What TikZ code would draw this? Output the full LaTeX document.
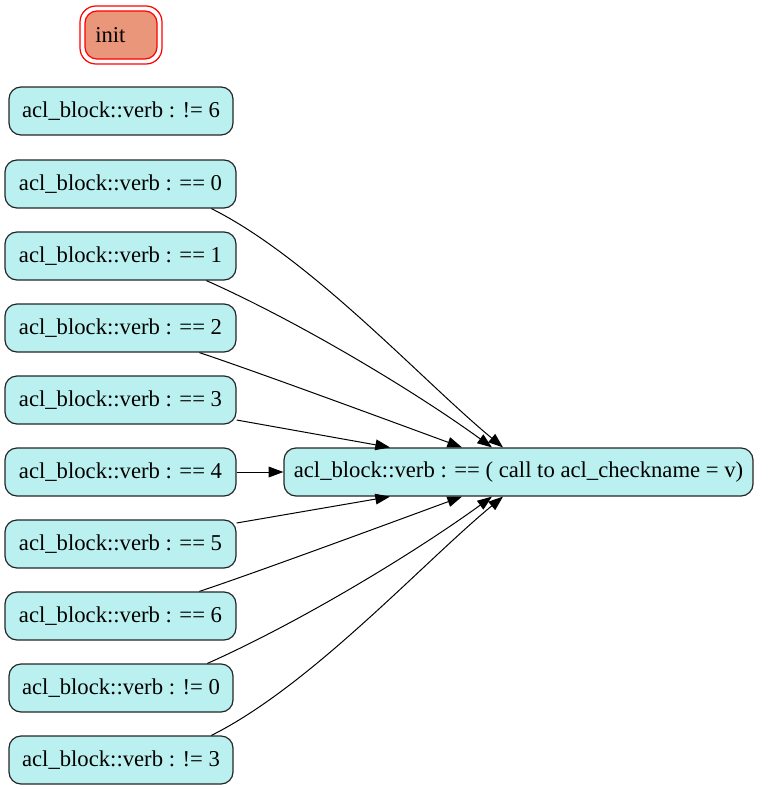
\documentclass[tikz,border=0pt]{standalone}
\usepackage{fontspec}
\setmainfont{Liberation Serif}
\usetikzlibrary{arrows.meta,calc}
\definecolor{boxfill}{RGB}{186,240,240}
\definecolor{initfill}{RGB}{233,150,122}
\tikzset{
  box/.style={draw=black!85, line width=0.9pt, fill=boxfill, rounded corners=9pt,
    minimum height=36pt, inner sep=0pt, font=\fontsize{17}{20}\selectfont},
  widebox/.style={box, minimum width=173.25pt},
  narrowbox/.style={box, minimum width=168pt},
  edge/.style={draw=black, line width=0.75pt, -{Triangle[length=11pt,width=8pt]}},
}
\begin{document}
\begin{tikzpicture}[x=0.75pt,y=-0.75pt]
\useasboundingbox (0,0) rectangle (773,789);
% init node
\node[draw=red, line width=0.9pt, rounded corners=12pt, minimum width=61.5pt, minimum height=43.5pt, inner sep=0pt] (initouter) at (121,35) {};
\node[draw=red, line width=0.9pt, fill=initfill, rounded corners=9pt, minimum width=54pt, minimum height=36pt, inner sep=0pt] (init) at (121,35) {};
\node[anchor=west, inner sep=0pt, font=\fontsize{17}{20}\selectfont] (inittext) at (95,35) {init};
% left column
\node[narrowbox] (ne6) at (121,111) {acl\_block::verb : != 6};
\node[widebox] (e0) at (120.5,184) {acl\_block::verb : == 0};
\node[widebox] (e1) at (120.5,256) {acl\_block::verb : == 1};
\node[widebox] (e2) at (120.5,328) {acl\_block::verb : == 2};
\node[widebox] (e3) at (120.5,400) {acl\_block::verb : == 3};
\node[widebox] (e4) at (120.5,472) {acl\_block::verb : == 4};
\node[widebox] (e5) at (120.5,544) {acl\_block::verb : == 5};
\node[widebox] (e6) at (120.5,616) {acl\_block::verb : == 6};
\node[narrowbox] (ne0) at (121,688) {acl\_block::verb : != 0};
\node[narrowbox] (ne3) at (121,760) {acl\_block::verb : != 3};
% target
\node[box, minimum width=351.75pt] (R) at (518.5,472) {acl\_block::verb : == ( call to acl\_checkname = v)};
% edges
\draw[edge] ($(e0.south west)+(207,0)$) .. controls +(100,50) and +(-80,-66) .. ($(R.north)+(-15.5,0)$);
\draw[edge] ($(e1.south west)+(202,0)$) .. controls +(90,40) and +(-80,-58) .. ($(R.north)+(-26.5,0)$);
\draw[edge] ($(e2.south west)+(195,0)$) .. controls +(60,20) and +(-60,-22) .. ($(R.north)+(-56.5,0)$);
\draw[edge] ($(e3.east)+(0,20)$) -- ($(R.north)+(-128.5,0)$);
\draw[edge] (e4.east) -- (R.west);
\draw[edge] ($(e5.east)+(0,-21)$) -- ($(R.south)+(-128.5,0)$);
\draw[edge] ($(e6.north west)+(195,0)$) .. controls +(60,-20) and +(-60,22) .. ($(R.south)+(-56.5,0)$);
\draw[edge] ($(ne0.north west)+(199,0)$) .. controls +(90,-40) and +(-80,58) .. ($(R.south)+(-26.5,0)$);
\draw[edge] ($(ne3.north west)+(203,0)$) .. controls +(100,-50) and +(-80,66) .. ($(R.south)+(-15.5,0)$);
\end{tikzpicture}
\end{document}
